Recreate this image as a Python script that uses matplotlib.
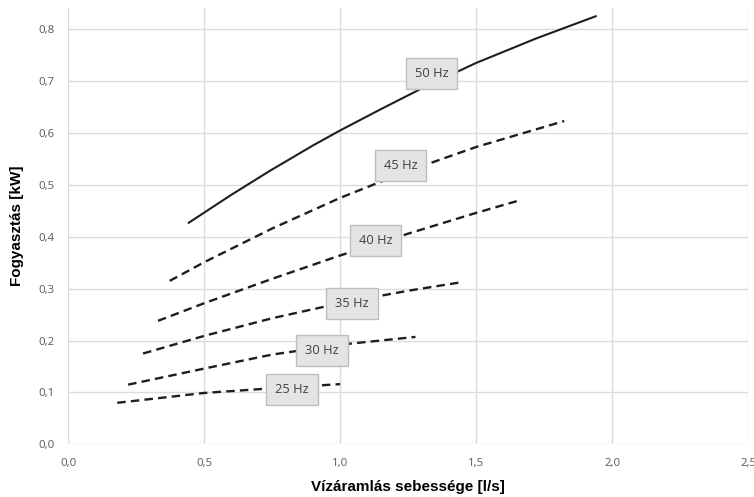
import numpy as np
import matplotlib.pyplot as plt

# flow rate [l/s] and power [kW]
x50 = [0.443, 0.6, 0.741, 0.9, 1.0, 1.15, 1.304, 1.5, 1.72, 1.94]
y50 = [0.427, 0.481, 0.527, 0.576, 0.605, 0.646, 0.687, 0.735, 0.782, 0.825]
x45 = [0.373, 0.5, 0.75, 1.0, 1.25, 1.5, 1.824]
y45 = [0.315, 0.351, 0.416, 0.475, 0.527, 0.573, 0.623]
x40 = [0.33, 0.5, 0.75, 1.0, 1.25, 1.5, 1.665]
y40 = [0.238, 0.272, 0.319, 0.364, 0.406, 0.446, 0.471]
x35 = [0.275, 0.5, 0.75, 1.0, 1.25, 1.441]
y35 = [0.175, 0.209, 0.243, 0.272, 0.296, 0.312]
x30 = [0.22, 0.5, 0.75, 1.0, 1.277]
y30 = [0.115, 0.146, 0.173, 0.192, 0.207]
x25 = [0.18, 0.5, 0.75, 1.0]
y25 = [0.080, 0.099, 0.108, 0.116]

labels = ["50 Hz", "45 Hz", "40 Hz", "35 Hz", "30 Hz", "25 Hz"]
label_x = [1.336, 1.222, 1.13, 1.044, 0.932, 0.822]
label_y = [0.714, 0.537, 0.392, 0.272, 0.180, 0.106]

xticks = [0.0, 0.5, 1.0, 1.5, 2.0, 2.5]
yticks = [0.0, 0.1, 0.2, 0.3, 0.4, 0.5, 0.6, 0.7, 0.8]

fig = plt.figure(figsize=(7.54, 4.97), dpi=100)
ax = fig.add_axes([0.0906, 0.106, 0.9014, 0.878])

line_col = "#1e1e1e"
ax.plot(x50, y50, color=line_col, lw=1.5, zorder=3)
for xs, ys in [(x45, y45), (x40, y40), (x35, y35), (x30, y30), (x25, y25)]:
    ax.plot(xs, ys, color=line_col, lw=1.7, dashes=(3.6, 2.2), zorder=3)

for t, lx, ly in zip(labels, label_x, label_y):
    ax.text(lx, ly, t, ha="center", va="center", fontsize=9.3, color="#404040",
            family="Open Sans", zorder=5,
            bbox=dict(boxstyle="square,pad=0.7", fc="#e4e4e4", ec="#bdbdbd", lw=1.0))

ax.set_xlim(0, 2.5)
ax.set_ylim(0, 0.841)
ax.set_xticks(xticks)
ax.set_yticks(yticks)
ax.set_xticklabels([f"{v:.1f}".replace(".", ",") for v in xticks])
ax.set_yticklabels([f"{v:.1f}".replace(".", ",") for v in yticks])
ax.tick_params(length=0, labelsize=8.2, labelcolor="#595959", pad=10)
for lab in ax.get_xticklabels() + ax.get_yticklabels():
    lab.set_family("Open Sans")

ax.grid(True, color="#dcdcdc", lw=1.0, zorder=0)
ax.set_axisbelow(True)
for s in ax.spines.values():
    s.set_visible(False)

ax.set_xlabel("Vízáramlás sebessége [l/s]", fontsize=11, fontweight="bold",
              family="Liberation Sans", labelpad=8)
ax.set_ylabel("Fogyasztás [kW]", fontsize=11, fontweight="bold",
              family="Liberation Sans", labelpad=10)

fig.savefig("out.png", dpi=100)
